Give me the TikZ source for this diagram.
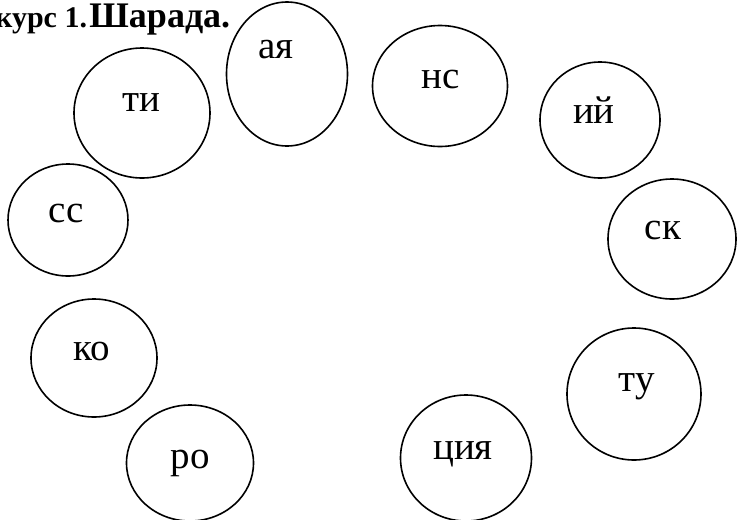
\documentclass[tikz,border=0pt]{standalone}
\usepackage{fontspec}
\setmainfont{Liberation Serif}
\usetikzlibrary{shapes.geometric}

\begin{document}
\begin{tikzpicture}[x=1pt,y=-1pt,
    syl/.style 2 args={ellipse,draw,line width=1.6pt,inner sep=0pt,
      minimum width=#1pt,minimum height=#2pt},
    word/.style={anchor=base,inner sep=0pt,font=\fontsize{39}{39}\selectfont},
    head/.style={anchor=base west,inner sep=0pt,font=\bfseries\fontsize{#1}{#1}\selectfont}]
  \useasboundingbox (0,0) rectangle (740,520);
  % title
  \node[head=30] (kurs) at (-5,27) {курс 1.};
  \node[head=36] (sharada) at ([xshift=2pt]kurs.base east) {Шарада.};
  % circles
  \draw
    (142,113) node[syl={136}{130}] (ti){}
    (287,74) node[syl={121}{144}] (aya){}
    (440,86) node[syl={135}{121}] (ns){}
    (600,120) node[syl={120}{116}] (iy){}
    (672,239) node[syl={128}{120}] (sk){}
    (634,394) node[syl={134}{132}] (tu){}
    (466,458) node[syl={131}{126}] (tsiya){}
    (190,463) node[syl={127}{116}] (ro){}
    (94,358) node[syl={126}{118}] (ko){}
    (68,220) node[syl={120}{112}] (ss){};
  % syllables
  \draw
    (ti.center) ++(-1,-2) node[word] (tiw){ти}
    (aya.center) ++(-11,-16) node[word] (ayaw){ая}
    (ns.center) ++(1,2) node[word] (nsw){нс}
    (iy.center) ++(-6,3) node[word] (iyw){ий}
    (sk.center) ++(-9,0) node[word] (skw){ск}
    (tu.center) ++(3,-3) node[word] (tuw){ту}
    (tsiya.center) ++(-3,1) node[word] (tsiyaw){ция}
    (ro.center) ++(0,5) node[word] (row){ро}
    (ko.center) ++(-2,2) node[word] (kow){ко}
    (ss.center) ++(-2,2) node[word] (ssw){сс};
\end{tikzpicture}
\end{document}
